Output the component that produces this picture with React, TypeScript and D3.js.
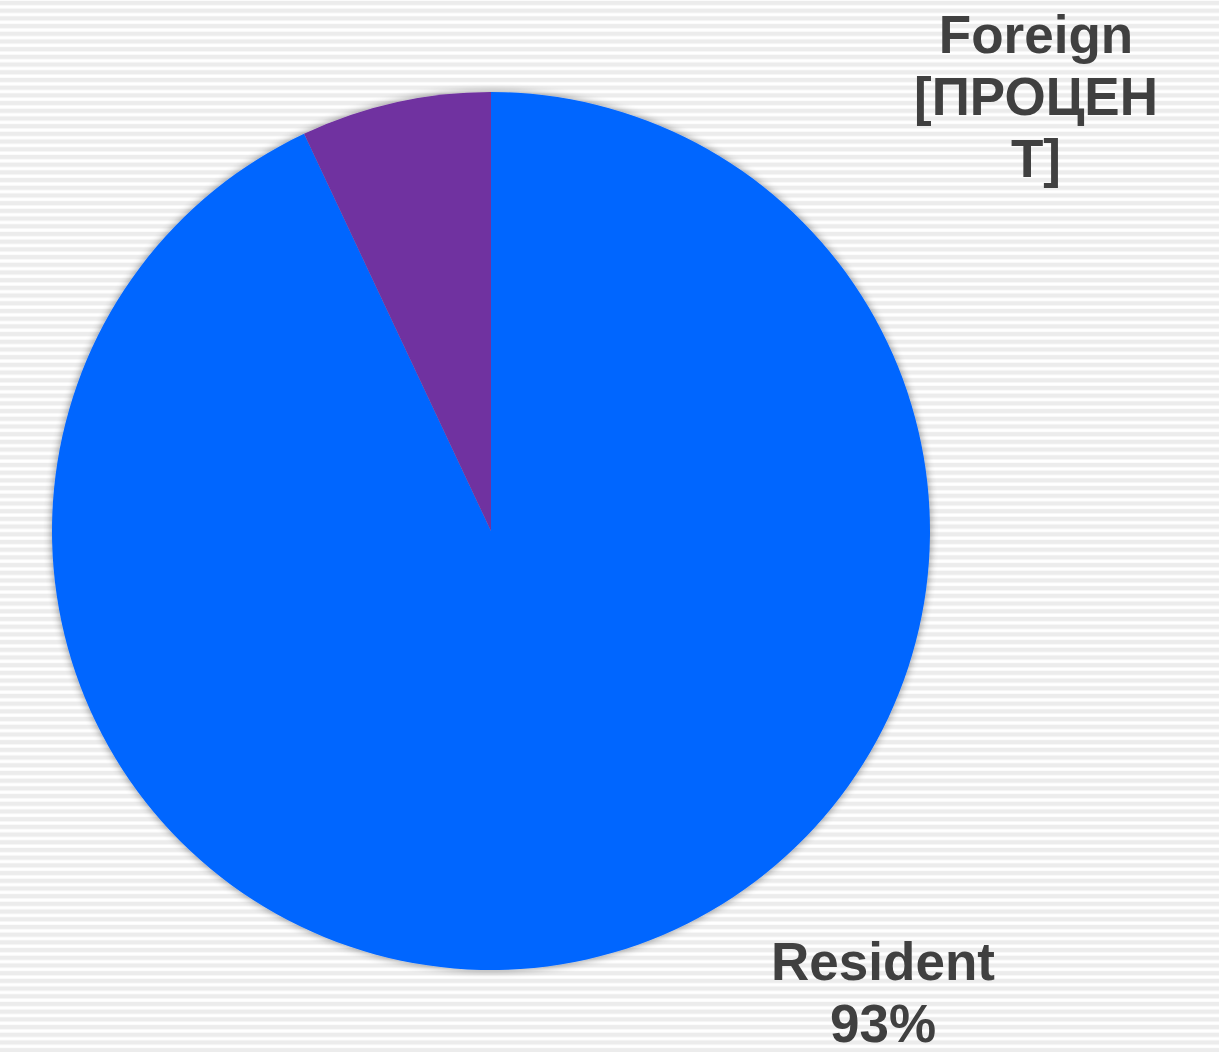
import React from "react";
import * as d3 from "d3";

const categories = ["Resident", "Foreign"];
const values = [93, 7];
const colors = ["#0066FF", "#7030A0"];
const labelLines = [
  ["Resident", "93%"],
  ["Foreign", "[ПРОЦЕН", "Т]"],
];

const W = 1219;
const H = 1052;

export default function App() {
  const cx = 491;
  const cy = 531;
  const r = 439;

  const pie = d3.pie<number>().sort(null).value((d) => d);
  const arcs = pie(values);
  const arc = d3.arc<d3.PieArcDatum<number>>().innerRadius(0).outerRadius(r);

  // label anchor points (centre x, first baseline y)
  const labelPos = [
    { x: 883, y: 980 },
    { x: 1036, y: 53 },
  ];

  return (
    <svg width={W} height={H} style={{ position: "absolute", left: 0, top: 0 }}>
      <defs>
        <pattern id="stripes" width={W} height={7.7} patternUnits="userSpaceOnUse">
          <rect width={W} height={7.7} fill="#ffffff" />
          <rect y={0.8} width={W} height={4.4} fill="#ececec" />
        </pattern>
        <filter id="shadow" x="-10%" y="-10%" width="120%" height="120%">
          <feGaussianBlur in="SourceAlpha" stdDeviation="4" />
          <feOffset dx="0" dy="0" result="b" />
          <feComponentTransfer>
            <feFuncA type="linear" slope="0.45" />
          </feComponentTransfer>
          <feMerge>
            <feMergeNode />
            <feMergeNode in="SourceGraphic" />
          </feMerge>
        </filter>
      </defs>
      <rect width={W} height={H} fill="url(#stripes)" />
      <g transform={`translate(${cx},${cy})`} filter="url(#shadow)">
        {arcs.map((a, i) => (
          <path key={categories[i]} d={arc(a) ?? ""} fill={colors[i]} />
        ))}
      </g>
      {labelLines.map((lines, i) => (
        <text
          key={categories[i]}
          x={labelPos[i].x}
          y={labelPos[i].y}
          textAnchor="middle"
          fontFamily="'Liberation Sans', Arial, sans-serif"
          fontWeight="bold"
          fontSize={53}
          fill="#404040"
        >
          {lines.map((l, j) => (
            <tspan key={j} x={labelPos[i].x} dy={j === 0 ? 0 : 62}>
              {l}
            </tspan>
          ))}
        </text>
      ))}
    </svg>
  );
}
